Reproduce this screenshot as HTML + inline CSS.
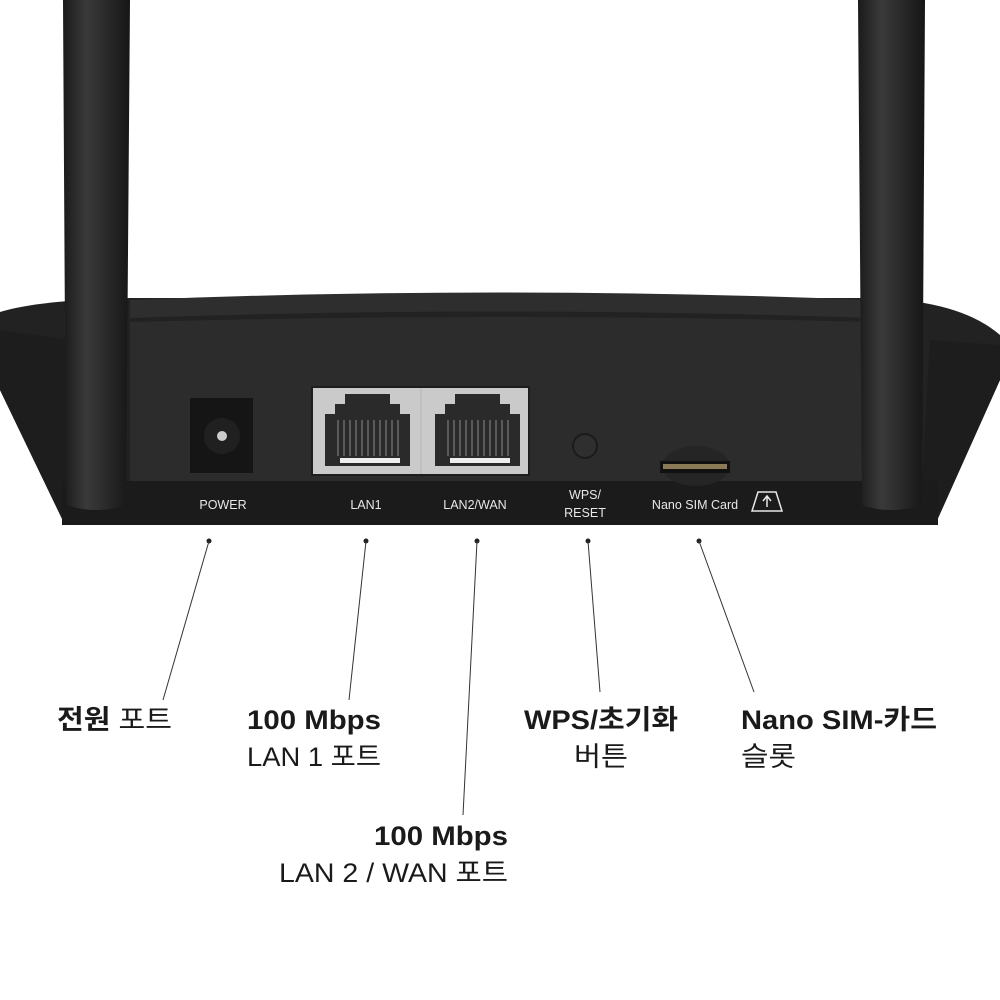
<!DOCTYPE html>
<html><head><meta charset="utf-8"><style>
html,body{margin:0;padding:0;background:#fff;width:1000px;height:1000px;overflow:hidden}
svg{display:block}
text{font-family:"Liberation Sans","Noto Sans CJK KR",sans-serif;}
</style></head><body>
<svg width="1000" height="1000" viewBox="0 0 1000 1000" xmlns="http://www.w3.org/2000/svg">
<defs>
<linearGradient id="ant" x1="0" x2="1" y1="0" y2="0">
<stop offset="0" stop-color="#1a1a1a"/><stop offset="0.35" stop-color="#3a3a3a"/><stop offset="1" stop-color="#161616"/>
</linearGradient>
</defs>
<!-- body outer -->
<path d="M0,312 Q40,300 130,298 L870,298 Q960,300 1000,335 L1000,380 L935,525 L65,525 L0,390 Z" fill="#222"/>
<path d="M130,300 Q500,285 870,300 L870,318 Q500,305 130,318 Z" fill="#2e2e2e"/>
<!-- inner panel -->
<path d="M130,322 Q500,312 870,322 L870,482 L130,482 Z" fill="#2c2c2c"/>
<!-- side wings -->
<path d="M0,330 L70,340 L80,520 L65,525 L0,390 Z" fill="#1d1d1d"/>
<path d="M1000,345 L930,340 L920,520 L935,525 L1000,380 Z" fill="#1d1d1d"/>
<!-- bottom strip -->
<rect x="62" y="481" width="876" height="44" fill="#1b1b1b"/>
<!-- power jack -->
<rect x="190" y="398" width="63" height="75" fill="#151515"/>
<circle cx="222" cy="436" r="18" fill="#202020"/>
<circle cx="222" cy="436" r="5" fill="#ccc"/>
<!-- RJ45 -->
<rect x="311" y="386" width="219" height="90" fill="#1e1e1e"/>
<rect x="313" y="388" width="215" height="86" fill="#cacaca"/>
<line x1="421" y1="388" x2="421" y2="474" stroke="#b5b5b5"/>
<g fill="#2a2a2a">
<path d="M345,394 h45 v10 h10 v10 h10 v52 h-85 v-52 h10 v-10 h10 z"/>
<path d="M455,394 h45 v10 h10 v10 h10 v52 h-85 v-52 h10 v-10 h10 z"/>
</g>
<g stroke="#6a6a6a" stroke-width="1.5">
<path d="M338,420v36M344,420v36M350,420v36M356,420v36M362,420v36M368,420v36M374,420v36M380,420v36M386,420v36M392,420v36M398,420v36"/>
<path d="M448,420v36M454,420v36M460,420v36M466,420v36M472,420v36M478,420v36M484,420v36M490,420v36M496,420v36M502,420v36M508,420v36"/>
</g>
<rect x="340" y="458" width="60" height="5" fill="#eee"/>
<rect x="450" y="458" width="60" height="5" fill="#eee"/>
<!-- button -->
<circle cx="585" cy="446" r="13" fill="#1b1b1b"/>
<circle cx="585" cy="446" r="11" fill="#2f2f2f"/>
<!-- SIM -->
<ellipse cx="696" cy="466" rx="34" ry="20" fill="#252525"/>
<rect x="660" y="461" width="70" height="12" fill="#111"/>
<rect x="663" y="464" width="64" height="5" fill="#8a7a55"/>
<!-- antennas -->
<path d="M63,0 L130,0 L126,505 Q96,515 66,505 Z" fill="url(#ant)"/>
<path d="M858,0 L925,0 L922,505 Q890,515 862,505 Z" fill="url(#ant)"/>
<!-- labels on device -->
<g fill="#e8e8e8" font-size="12.5" text-anchor="middle">
<text x="223" y="509">POWER</text>
<text x="366" y="509">LAN1</text>
<text x="475" y="509">LAN2/WAN</text>
<text x="585" y="499">WPS/</text>
<text x="585" y="517">RESET</text>
<text x="695" y="509">Nano SIM Card</text>
</g>
<path d="M752,511 L758,492 L776,492 L782,511 Z" fill="none" stroke="#e8e8e8" stroke-width="1.5"/>
<path d="M767,507 V497 M763,501 L767,496 L771,501" fill="none" stroke="#e8e8e8" stroke-width="1.5"/>
<!-- dots and leaders -->
<g fill="#222">
<circle cx="209" cy="541" r="2.5"/><circle cx="366" cy="541" r="2.5"/><circle cx="477" cy="541" r="2.5"/><circle cx="588" cy="541" r="2.5"/><circle cx="699" cy="541" r="2.5"/>
</g>
<g stroke="#333" stroke-width="1">
<line x1="209" y1="541" x2="163" y2="700"/>
<line x1="366" y1="541" x2="349" y2="700"/>
<line x1="477" y1="541" x2="463" y2="815"/>
<line x1="588" y1="541" x2="600" y2="692"/>
<line x1="699" y1="541" x2="754" y2="692"/>
</g>
<!-- callout text -->
<g fill="#1a1a1a" font-size="27">
<text x="57" y="729" textLength="115" lengthAdjust="spacingAndGlyphs"><tspan font-weight="bold">전원</tspan> 포트</text>
<text x="247" y="729" font-weight="bold" textLength="134" lengthAdjust="spacingAndGlyphs">100 Mbps</text>
<text x="247" y="766" textLength="134" lengthAdjust="spacingAndGlyphs">LAN 1 포트</text>
<text x="374" y="845" font-weight="bold" textLength="134" lengthAdjust="spacingAndGlyphs">100 Mbps</text>
<text x="279" y="882" textLength="229" lengthAdjust="spacingAndGlyphs">LAN 2 / WAN 포트</text>
<text x="524" y="729" font-weight="bold" textLength="154" lengthAdjust="spacingAndGlyphs">WPS/초기화</text>
<text x="574" y="766" textLength="54" lengthAdjust="spacingAndGlyphs">버튼</text>
<text x="741" y="729" font-weight="bold" textLength="196" lengthAdjust="spacingAndGlyphs">Nano SIM-카드</text>
<text x="741" y="766" textLength="55" lengthAdjust="spacingAndGlyphs">슬롯</text>
</g>
</svg>
</body></html>
